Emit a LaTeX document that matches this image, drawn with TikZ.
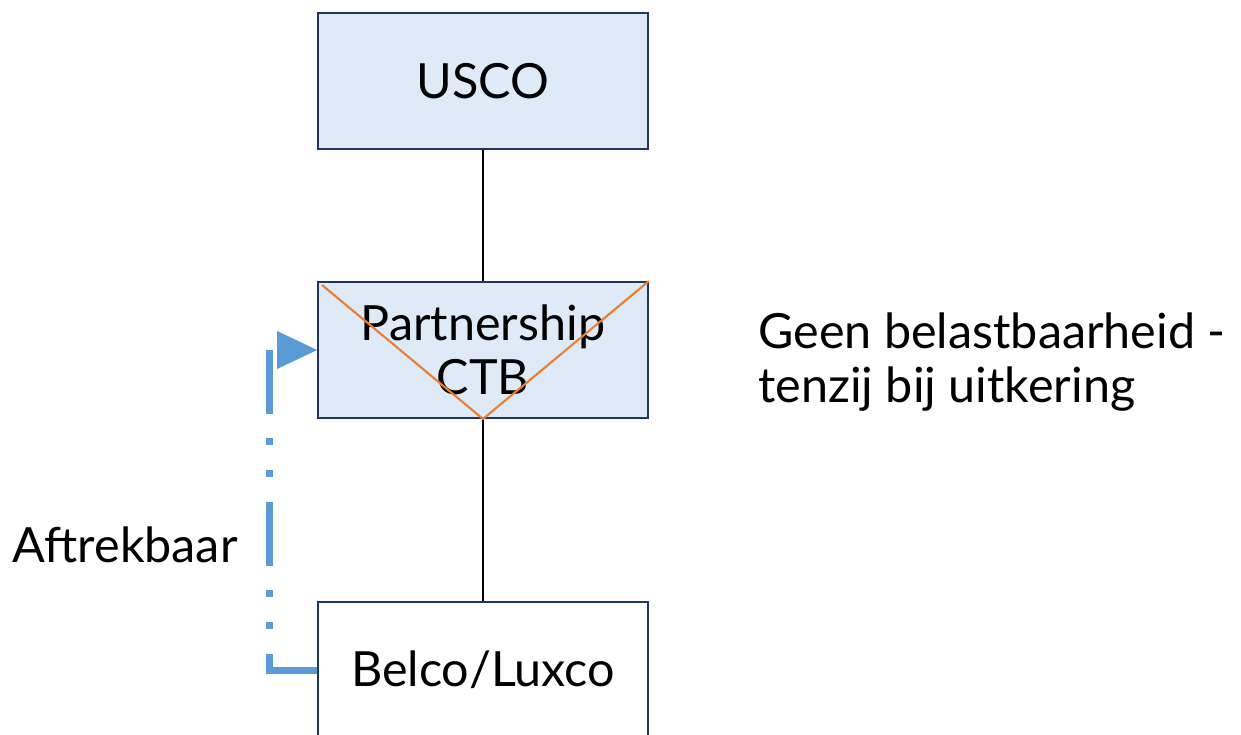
\documentclass[tikz,border=0pt]{standalone}
\usepackage{fontspec}
\setmainfont{Lato}
\usetikzlibrary{arrows.meta}
\definecolor{boxfill}{RGB}{222,234,246}
\definecolor{boxline}{RGB}{31,56,90}
\definecolor{flowblue}{RGB}{91,155,213}
\definecolor{crossorange}{RGB}{237,125,49}

\begin{document}
\begin{tikzpicture}[x=0.02cm,y=-0.02cm,line cap=butt,
		entity/.style={draw=boxline,line width=1.1pt,minimum width=6.6cm,minimum height=2.72cm,
			inner sep=0pt,align=center,font=\fontsize{27.6}{31}\selectfont},
		txt/.style={inner sep=0pt,align=left,font=\fontsize{27.6}{31}\selectfont},
		flow/.style={draw=flowblue,line width=0.14cm,line join=miter,
			dash pattern={on 1.28cm off 0.5cm on 0.14cm off 0.5cm on 0.14cm off 0.48cm},
			-{Triangle[length=0.8cm,width=0.76cm,line width=0pt]}}]
	\useasboundingbox (0,0) rectangle (1241,734);
	\node[entity,fill=boxfill] (usco) at (483,81) {USCO};
	\node[entity,fill=boxfill] (ctb) at (483,350) {Partnership\\CTB};
	\node[entity,fill=white] (belco) at (483,670) {Belco/Luxco};
	\draw[line width=1.1pt] (usco) -- (ctb);
	\draw[line width=1.1pt] (ctb) -- (belco);
	\draw[crossorange,line width=1.2pt] ([shift={(5,4)}]ctb.north west) -- (ctb.south) -- (ctb.north east);
	\draw[flow] (belco.west) -- ++(-48,0) |- (ctb.west);
	\node[txt,anchor=west] (note) at (758,362) {Geen belastbaarheid -\\tenzij bij uitkering};
	\node[txt,anchor=east] (aftrek) at (238,545) {Aftrekbaar};
\end{tikzpicture}
\end{document}
